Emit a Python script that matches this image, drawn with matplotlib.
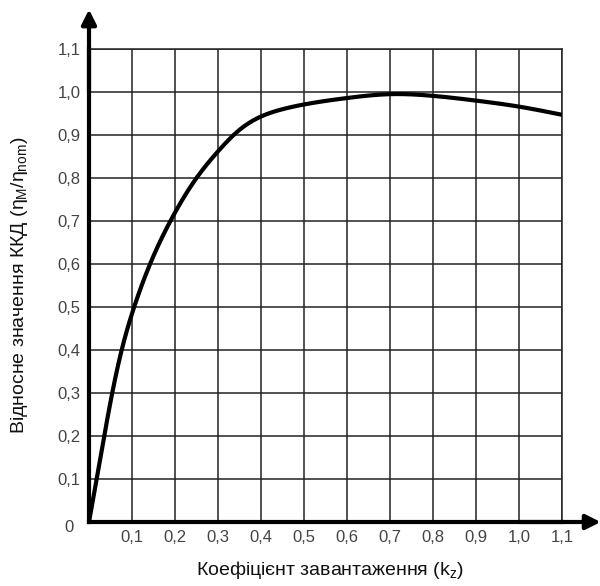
import matplotlib
matplotlib.use("Agg")
import matplotlib.pyplot as plt
import numpy as np

plt.rcParams['font.family'] = ['Liberation Sans', 'DejaVu Sans']
plt.rcParams['mathtext.fontset'] = 'custom'
plt.rcParams['mathtext.rm'] = 'Liberation Sans'
plt.rcParams['mathtext.it'] = 'Liberation Sans'

kz = [0, 0.02, 0.054, 0.076, 0.105, 0.142, 0.192, 0.243, 0.30, 0.35, 0.40,
      0.45, 0.50, 0.60, 0.70, 0.80, 0.90, 1.0, 1.1]
eta = [0, 0.112, 0.30, 0.40, 0.50, 0.60, 0.705, 0.79, 0.862, 0.912, 0.943,
       0.960, 0.971, 0.986, 0.995, 0.991, 0.980, 0.966, 0.947]

ticks = [0.1, 0.2, 0.3, 0.4, 0.5, 0.6, 0.7, 0.8, 0.9, 1.0, 1.1]
tick_labels = ['0,1', '0,2', '0,3', '0,4', '0,5', '0,6', '0,7', '0,8', '0,9', '1,0', '1,1']


def natural_spline(x, y, xs):
    x = np.asarray(x, float)
    y = np.asarray(y, float)
    n = len(x)
    h = np.diff(x)
    A = np.zeros((n, n))
    b = np.zeros(n)
    A[0, 0] = 1
    A[-1, -1] = 1
    for i in range(1, n - 1):
        A[i, i - 1] = h[i - 1]
        A[i, i] = 2 * (h[i - 1] + h[i])
        A[i, i + 1] = h[i]
        b[i] = 6 * ((y[i + 1] - y[i]) / h[i] - (y[i] - y[i - 1]) / h[i - 1])
    M = np.linalg.solve(A, b)
    idx = np.clip(np.searchsorted(x, xs) - 1, 0, n - 2)
    xi, xi1 = x[idx], x[idx + 1]
    hi = h[idx]
    return (M[idx] * (xi1 - xs) ** 3 / (6 * hi) + M[idx + 1] * (xs - xi) ** 3 / (6 * hi)
            + (y[idx] / hi - M[idx] * hi / 6) * (xi1 - xs)
            + (y[idx + 1] / hi - M[idx + 1] * hi / 6) * (xs - xi))


W, H = 600, 586
fig = plt.figure(figsize=(W / 100, H / 100), dpi=100)
x0, x1 = 89, 562
y0, y1 = 522, 49
ax = fig.add_axes([x0 / W, 1 - y0 / H, (x1 - x0) / W, (y0 - y1) / H])
ax.set_xlim(0, 1.1)
ax.set_ylim(0, 1.1)

ax.set_xticks(ticks)
ax.set_xticklabels(tick_labels)
ax.set_yticks(ticks)
ax.set_yticklabels(tick_labels)
ax.tick_params(length=0, labelsize=12, labelcolor='#444444')
ax.tick_params(axis='x', pad=6)
ax.tick_params(axis='y', pad=6)
ax.grid(True, color='#222222', lw=1.1)
ax.set_axisbelow(True)

for s in ['top', 'right']:
    ax.spines[s].set_linewidth(1.1)
    ax.spines[s].set_color('#222222')
for s in ['left', 'bottom']:
    ax.spines[s].set_linewidth(3)
    ax.spines[s].set_color('black')

xs = np.linspace(0, 1.1, 800)
ax.plot(xs, natural_spline(kz, eta, xs), color='black', lw=3,
        solid_capstyle='butt', zorder=5)

# arrows
ax.annotate('', xy=(0, 1.192), xytext=(0, 1.0), xycoords='data',
            arrowprops=dict(arrowstyle='-|>', lw=3, color='black',
                            mutation_scale=22, shrinkA=0, shrinkB=0),
            annotation_clip=False)
ax.annotate('', xy=(1.19, 0), xytext=(1.0, 0), xycoords='data',
            arrowprops=dict(arrowstyle='-|>', lw=3, color='black',
                            mutation_scale=22, shrinkA=0, shrinkB=0),
            annotation_clip=False)

fig.text(69 / W, 1 - 527 / H, '0', fontsize=12, color='#444444',
         ha='center', va='center')

fig.text(330 / W, 1 - 570 / H, 'Коефіцієнт завантаження (k$_z$)', fontsize=14,
         color='#111111', ha='center', va='center')
fig.text(20 / W, 1 - 285 / H,
         'Відносне значення ККД ($\\eta_M/\\eta_{nom}$)', fontsize=14,
         color='#111111', ha='center', va='center', rotation=90)

fig.savefig('out.png', dpi=100)
